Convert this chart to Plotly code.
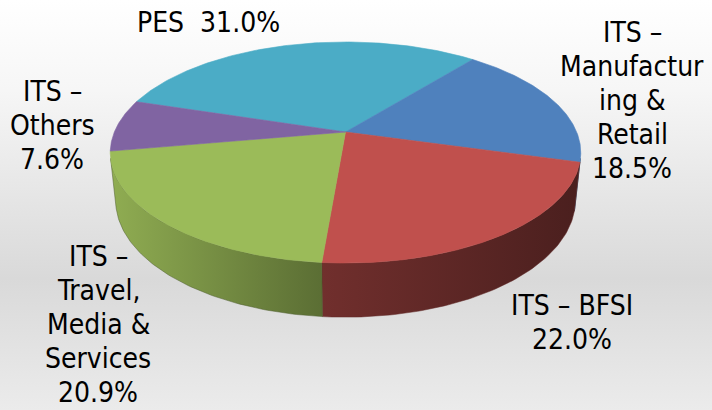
import numpy as np
import plotly.graph_objects as go

# ---- data ----
categories = ["PES", "ITS – Manufacturing & Retail", "ITS – BFSI",
              "ITS – Travel, Media & Services", "ITS – Others"]
shares = [31.0, 18.5, 22.0, 20.9, 7.6]
colors = ["#4BACC6", "#4F81BD", "#C0504D", "#9BBB59", "#8064A2"]
label_lines = [
    ["PES\u00a0 {p}"],
    ["ITS –", "Manufactur", "ing &amp;", "Retail", "{p}"],
    ["ITS – BFSI", "{p}"],
    ["ITS –", "Travel,", "Media &amp;", "Services", "{p}"],
    ["ITS –", "Others", "{p}"],
]

# ---- 3D pie view (perspective) ----
W, H = 712, 410
CX, CY = 345.5, 132.0          # screen position of pie centre (apex)
FOC = 1105.0                   # focal scale
DIST = 4.78                    # camera distance (in pie radii)
ELEV = np.radians(27.5)        # camera elevation
THICK = 0.2356                 # pie thickness (in pie radii)
START = 162.6                  # angle (deg) where first slice starts, going clockwise
cosE, sinE = np.cos(ELEV), np.sin(ELEV)


def proj(phi_deg, z=0.0, r=1.0):
    p = np.radians(np.asarray(phi_deg, dtype=float))
    x, y = r * np.cos(p), r * np.sin(p)
    den = DIST + y * cosE - z * sinE
    X = FOC * x / den
    Y = FOC * (y * sinE + z * cosE) / den
    return CX + X, CY - Y


def hex2rgb(h):
    h = h.lstrip("#")
    return tuple(int(h[i:i + 2], 16) for i in (0, 2, 4))


def shade(h, f):
    r, g, b = hex2rgb(h)
    return f"rgb({int(r * f)},{int(g * f)},{int(b * f)})"


fig = go.Figure()

# background gradient
fig.add_trace(go.Scatter(
    x=[0, W, W, 0, 0], y=[0, 0, H, H, 0], mode="lines", fill="toself",
    line=dict(width=0), hoverinfo="skip", showlegend=False,
    fillgradient=dict(type="vertical", start=0, stop=H,
                      colorscale=[[0, "#FFFFFF"], [0.22, "#F6F6F6"],
                                  [0.68, "#D9D9D9"], [1, "#EBEBEB"]]),
))

# slice angles
cum = np.concatenate([[0], np.cumsum(shares)]) / sum(shares) * 360.0
a_start = START - cum[:-1]
a_end = START - cum[1:]

# visible wall range (silhouette tangents)
hd = DIST * cosE
tang = np.degrees(np.arccos(1.0 / hd))
vis_lo, vis_hi = -90 - tang, -90 + tang

pie_left, pie_right = CX - 236, CX + 236

# side walls
for i in range(len(shares)):
    for k in (-1, 0, 1):
        lo = max(a_end[i], vis_lo + 360 * k)
        hi = min(a_start[i], vis_hi + 360 * k)
        if hi - lo <= 0.01:
            continue
        ph = np.linspace(lo, hi, 80)
        xt, yt = proj(ph, 0.0)
        xb, yb = proj(ph[::-1], -THICK)
        xs = np.concatenate([xt, xb, xt[:1]])
        ys = np.concatenate([yt, yb, yt[:1]])
        fig.add_trace(go.Scatter(
            x=xs, y=ys, mode="lines", fill="toself",
            line=dict(width=0.5, color=shade(colors[i], 0.5)),
            hoverinfo="skip", showlegend=False,
            fillgradient=dict(type="horizontal", start=pie_left, stop=pie_right,
                              colorscale=[[0, shade(colors[i], 0.93)],
                                          [0.45, shade(colors[i], 0.59)],
                                          [1, shade(colors[i], 0.39)]]),
        ))

# top faces
for i in range(len(shares)):
    ph = np.linspace(a_start[i], a_end[i], 120)
    xt, yt = proj(ph, 0.0)
    xs = np.concatenate([[CX], xt, [CX]])
    ys = np.concatenate([[CY], yt, [CY]])
    fig.add_trace(go.Scatter(
        x=xs, y=ys, mode="lines", fill="toself", fillcolor=colors[i],
        line=dict(width=0.6, color=colors[i]),
        hoverinfo="skip", showlegend=False, name=categories[i],
    ))

# labels (layout positions of label blocks, px)
label_pos = [(208, 22), (632, 100), (572, 322), (98, 324), (52, 125)]
LINE = 34
FONT = dict(family="DejaVu Sans Condensed, Liberation Sans Narrow, sans-serif",
            size=28, color="#000000")
annotations = []
for i, lines in enumerate(label_lines):
    cxl, cyl = label_pos[i]
    n = len(lines)
    for j, ln in enumerate(lines):
        txt = ln.format(p=f"{shares[i]:.1f}%")
        annotations.append(dict(
            x=cxl, y=cyl + (j - (n - 1) / 2) * LINE, xref="x", yref="y",
            text=txt, showarrow=False, xanchor="center", yanchor="middle",
            font=FONT,
        ))

fig.update_layout(
    width=W, height=H, margin=dict(l=0, r=0, t=0, b=0),
    paper_bgcolor="#FFFFFF", plot_bgcolor="rgba(0,0,0,0)",
    xaxis=dict(range=[0, W], visible=False, fixedrange=True),
    yaxis=dict(range=[H, 0], visible=False, fixedrange=True),
    annotations=annotations, showlegend=False,
)

fig.write_html("out.html", config={"displayModeBar": False},
               post_script="document.body.style.margin='0';"
                           "document.body.style.overflow='hidden';")
